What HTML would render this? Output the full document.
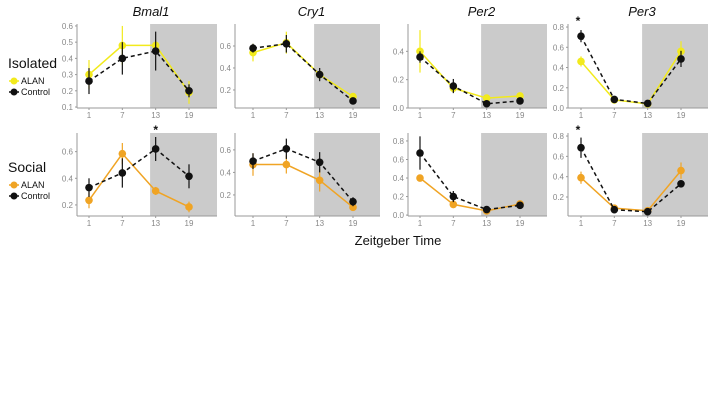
<!DOCTYPE html>
<html><head><meta charset="utf-8"><style>
body{margin:0;background:#fff;}
svg{display:block;font-family:"Liberation Sans",sans-serif;}
</style></head><body>
<svg id="c" width="720" height="405"></svg>
<script>
const hours=[1,7,13,19];
const genes=["Bmal1","Cry1","Per2","Per3"];
const isoAlan=[[0.30,0.48,0.48,0.19],[0.54,0.63,0.34,0.14],[0.40,0.14,0.07,0.085],[0.46,0.08,0.04,0.56]];
const isoAlanErr=[[0.09,0.12,0.02,0.07],[0.08,0.1,0.04,0.03],[0.15,0.03,0.02,0.02],[0.05,0.02,0.02,0.1]];
const isoCtrl=[[0.26,0.40,0.445,0.20],[0.58,0.62,0.34,0.10],[0.36,0.155,0.03,0.05],[0.71,0.085,0.045,0.485]];
const isoCtrlErr=[[0.08,0.1,0.12,0.04],[0.04,0.08,0.06,0.02],[0.04,0.05,0.02,0.02],[0.06,0.02,0.02,0.08]];
const socAlan=[[0.235,0.585,0.305,0.185],[0.47,0.47,0.33,0.09],[0.40,0.115,0.045,0.12],[0.39,0.09,0.065,0.46]];
const socAlanErr=[[0.06,0.08,0.03,0.04],[0.1,0.08,0.1,0.03],[0.02,0.04,0.02,0.02],[0.06,0.03,0.02,0.08]];
const socCtrl=[[0.33,0.44,0.62,0.415],[0.50,0.61,0.49,0.14],[0.67,0.20,0.06,0.105],[0.685,0.075,0.055,0.33]];
const socCtrlErr=[[0.07,0.11,0.09,0.09],[0.07,0.09,0.09,0.04],[0.18,0.06,0.02,0.02],[0.1,0.02,0.02,0.03]];
const yTicksTop=[["0.1","0.2","0.3","0.4","0.5","0.6"],["0.2","0.4","0.6"],["0.0","0.2","0.4"],["0.0","0.2","0.4","0.6","0.8"]];
const yTicksBot=[["0.2","0.4","0.6"],["0.2","0.4","0.6"],["0.0","0.2","0.4","0.6","0.8"],["0.2","0.4","0.6","0.8"]];
const yDomTop=[[0.094,0.612],[0.036,0.8],[0,0.593],[0,0.83]];
const yDomBot=[[0.117,0.74],[0.013,0.75],[-0.01,0.886],[0.013,0.83]];
const L=[77,235,408,568],R=[217,380,547,708],X1=[89,253,420,581],X19=[189,353,520,681];
const rows=[{top:24,bot:108,dom:yDomTop,ticks:yTicksTop,a:isoAlan,ae:isoAlanErr,c:isoCtrl,ce:isoCtrlErr,col:"#f2ea1c",star:[3],sy:25},
            {top:133,bot:216,dom:yDomBot,ticks:yTicksBot,a:socAlan,ae:socAlanErr,c:socCtrl,ce:socCtrlErr,col:"#f0a424",star:[0,3],sy:134}];
const NS="http://www.w3.org/2000/svg",svg=document.getElementById('c');
function el(t,a,p){const e=document.createElementNS(NS,t);for(const k in a)e.setAttribute(k,a[k]);(p||svg).appendChild(e);return e;}
rows.forEach((r,ri)=>{
 genes.forEach((g,gi)=>{
  const grp=el('g',{});
  
  
  const xs=h=>X1[gi]+(h-1)*(X19[gi]-X1[gi])/18;
  const d=r.dom[gi];const ys=v=>r.bot-(v-d[0])/(d[1]-d[0])*(r.bot-r.top);
  const sh=el('rect',{x:xs(12),y:r.top,width:R[gi]-xs(12),height:r.bot-r.top,fill:'#cbcbcb'},grp);
  
  el('line',{x1:L[gi],x2:L[gi],y1:r.top,y2:r.bot,stroke:'#999','stroke-width':1},grp);
  el('line',{x1:L[gi],x2:R[gi],y1:r.bot,y2:r.bot,stroke:'#999','stroke-width':1},grp);
  r.ticks[gi].forEach(t=>{const y=ys(parseFloat(t));
   el('line',{x1:L[gi]-2,x2:L[gi],y1:y,y2:y,stroke:'#999'},grp);
   const tx=el('text',{x:L[gi]-4,y:y+3,'text-anchor':'end','font-size':8,fill:'#888'},grp);tx.textContent=t;});
  hours.forEach(h=>{const x=xs(h);el('line',{x1:x,x2:x,y1:r.bot,y2:r.bot+2,stroke:'#999'},grp);
   const tx=el('text',{x:x,y:r.bot+10,'text-anchor':'middle','font-size':8,fill:'#888'},grp);tx.textContent=h;});
  function series(v,e,col,dash,nm){
   const sg=el('g',{},grp);
   v.forEach((y,i)=>el('line',{x1:xs(hours[i]),x2:xs(hours[i]),y1:ys(y-e[i]),y2:ys(y+e[i]),stroke:col,'stroke-width':1.2},sg));
   el('polyline',{points:v.map((y,i)=>xs(hours[i])+','+ys(y)).join(' '),fill:'none',stroke:col,'stroke-width':1.5,'stroke-dasharray':dash},sg);
   v.forEach((y,i)=>el('circle',{cx:xs(hours[i]),cy:ys(y),r:3.8,fill:col},sg));
  }
  series(r.a[gi],r.ae[gi],r.col,'none','alan-series');
  series(r.c[gi],r.ce[gi],'#111','4,3','control-series');
  if(ri===0){const t=el('text',{x:(L[gi]+R[gi])/2+4,y:16,'text-anchor':'middle','font-size':13,'font-style':'italic',fill:'#111'});t.textContent=g;
   }
  if(r.star.includes(gi)){const x=gi===3?xs(1)-3:xs(13);const t=el('text',{x:x,y:r.sy,'text-anchor':'middle','font-size':12,'font-weight':'bold',fill:'#111'});t.textContent='*';
   }
 });
});
function legend(title,ty,col){
 const g=el('g',{});
 const t=el('text',{x:8,y:ty,'font-size':14,fill:'#111'},g);t.textContent=title;
 [[col,'ALAN',ty+16],['#111','Control',ty+27]].forEach(([c,n,y])=>{
  el('line',{x1:9,x2:19,y1:y-3,y2:y-3,stroke:c,'stroke-width':1.5},g);
  el('circle',{cx:14,cy:y-3,r:3.5,fill:c},g);
  const tt=el('text',{x:21,y:y,'font-size':9,fill:'#111'},g);tt.textContent=n;});
}
legend('Isolated',68,'#f2ea1c');
legend('Social',172,'#f0a424');
const xt=el('text',{x:398,y:245,'text-anchor':'middle','font-size':13,fill:'#111'});xt.textContent='Zeitgeber Time';

</script>
</body></html>
